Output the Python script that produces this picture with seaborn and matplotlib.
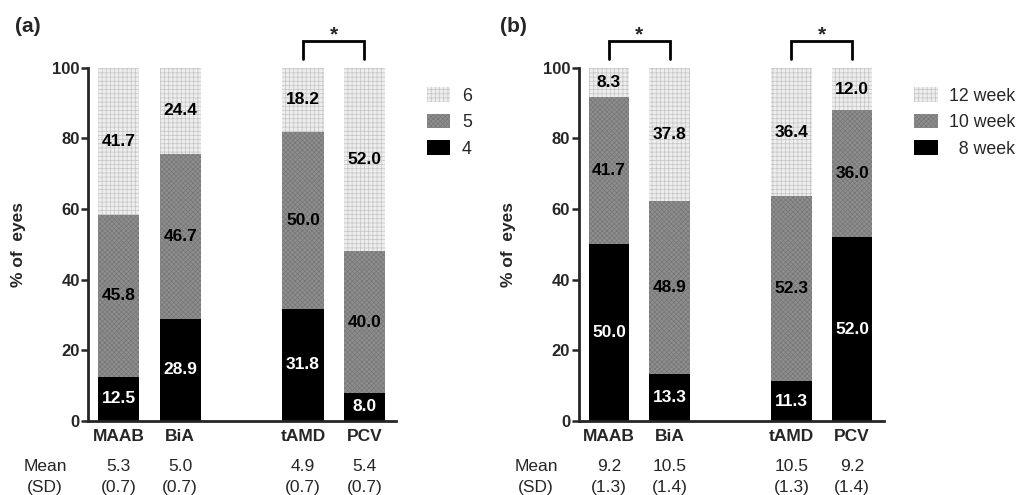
import matplotlib
matplotlib.use("Agg")
import matplotlib.pyplot as plt
from matplotlib.patches import Patch
import seaborn as sns
import pandas as pd

# data
groups = ['MAAB', 'BiA', 'tAMD', 'PCV']
xpos = [0, 1, 3, 4]

a_labels = ['6', '5', '4']
a_top = [41.7, 24.4, 18.2, 52.0]
a_mid = [45.8, 46.7, 50.0, 40.0]
a_low = [12.5, 28.9, 31.8, 8.0]
a_mean = ['5.3', '5.0', '4.9', '5.4']
a_sd = ['(0.7)', '(0.7)', '(0.7)', '(0.7)']

b_labels = ['12 week', '10 week', '  8 week']
b_top = [8.3, 37.8, 36.4, 12.0]
b_mid = [41.7, 48.9, 52.3, 36.0]
b_low = [50.0, 13.3, 11.3, 52.0]
b_mean = ['9.2', '10.5', '10.5', '9.2']
b_sd = ['(1.3)', '(1.4)', '(1.3)', '(1.4)']

sns.set_style('ticks')
plt.rcParams['font.family'] = ['Liberation Sans', 'DejaVu Sans']
plt.rcParams['hatch.linewidth'] = 0.5

LIGHT, LIGHT_H = '#eeeeee', '#c4c4c4'
MID, MID_H = '#8e8e8e', '#767676'
TOP_HATCH, MID_HATCH = '++++', 'xxxxxxx'

fig = plt.figure(figsize=(10.24, 4.95), dpi=100)
ax_a = fig.add_axes([0.086, 0.1495, 0.301, 0.7135])
ax_b = fig.add_axes([0.565, 0.1495, 0.298, 0.7135])


def style_patches(ax, start, face, hatch_col, hatch):
    for p in ax.patches[start:]:
        p.set_facecolor(face)
        p.set_edgecolor(hatch_col)
        p.set_hatch(hatch)
        p.set_linewidth(0)


def panel(ax, top, mid, low, labels, means, sds, brackets, letter, xl, lx):
    df = pd.DataFrame({'x': xpos, 'top': top, 'mid': mid, 'low': low})
    df['total'] = df['top'] + df['mid'] + df['low']
    df['midcum'] = df['mid'] + df['low']

    sns.barplot(data=df, x='x', y='total', native_scale=True, width=0.67,
                color=LIGHT, ax=ax)
    style_patches(ax, 0, LIGHT, LIGHT_H, TOP_HATCH)
    n = len(ax.patches)
    sns.barplot(data=df, x='x', y='midcum', native_scale=True, width=0.67,
                color=MID, ax=ax)
    style_patches(ax, n, MID, MID_H, MID_HATCH)
    n = len(ax.patches)
    sns.barplot(data=df, x='x', y='low', native_scale=True, width=0.67,
                color='black', ax=ax)
    for p in ax.patches[n:]:
        p.set_linewidth(0)

    # value labels
    for i, x in enumerate(xpos):
        ax.text(x, low[i] / 2, f'{low[i]:.1f}', ha='center', va='center',
                color='white', fontsize=12.5, fontweight='bold')
        ax.text(x, low[i] + mid[i] / 2, f'{mid[i]:.1f}', ha='center', va='center',
                color='black', fontsize=12.5, fontweight='bold')
        ax.text(x, low[i] + mid[i] + top[i] / 2, f'{top[i]:.1f}', ha='center',
                va='center', color='black', fontsize=12.5, fontweight='bold')
        ax.text(x, -13, means[i], ha='center', va='center', fontsize=12.5)
        ax.text(x, -18.8, sds[i], ha='center', va='center', fontsize=12.5)
    ax.text(xl, -13, 'Mean', ha='center', va='center', fontsize=12.5)
    ax.text(xl, -18.8, '(SD)', ha='center', va='center', fontsize=12.5)

    # significance brackets
    for x1, x2 in brackets:
        ax.plot([x1, x1, x2, x2], [102.4, 107.5, 107.5, 102.4], color='black',
                lw=2, clip_on=False, solid_joinstyle='miter')
        ax.text((x1 + x2) / 2, 106.6, '*', ha='center', va='bottom',
                fontsize=15, fontweight='bold')

    ax.set_xlim(-0.5, 4.52)
    ax.set_ylim(0, 100)
    ax.set_xticks(xpos)
    ax.set_xticklabels(groups, fontsize=12.5, fontweight='bold')
    ax.set_yticks([0, 20, 40, 60, 80, 100])
    ax.set_yticklabels(['0', '20', '40', '60', '80', '100'], fontsize=12,
                       fontweight='bold')
    ax.tick_params(axis='x', length=0, pad=6)
    ax.tick_params(axis='y', length=5, width=1.8, pad=1)
    for s in ['left', 'bottom']:
        ax.spines[s].set_linewidth(2)
    sns.despine(ax=ax)
    ax.set_xlabel('')
    ax.set_ylabel('% of  eyes', fontsize=12.5, fontweight='bold', labelpad=19)
    ax.text(lx, 1.116, letter, transform=ax.transAxes, fontsize=15,
            fontweight='bold', ha='left', va='center')

    handles = [Patch(facecolor=LIGHT, edgecolor=LIGHT_H, hatch=TOP_HATCH, lw=0),
               Patch(facecolor=MID, edgecolor=MID_H, hatch=MID_HATCH, lw=0),
               Patch(facecolor='black', lw=0)]
    ax.legend(handles, labels, loc='upper left', bbox_to_anchor=(1.06, 0.98),
              frameon=False, fontsize=12.8, handlelength=1.3, handleheight=0.9,
              handletextpad=0.65, labelspacing=0.5, borderaxespad=0.3)


panel(ax_a, a_top, a_mid, a_low, a_labels, a_mean, a_sd, [(3, 4)], '(a)',
      -1.2, -0.237)
panel(ax_b, b_top, b_mid, b_low, b_labels, b_mean, b_sd, [(0, 1), (3, 4)],
      '(b)', -1.2, -0.259)

fig.savefig('out.png', dpi=100)
